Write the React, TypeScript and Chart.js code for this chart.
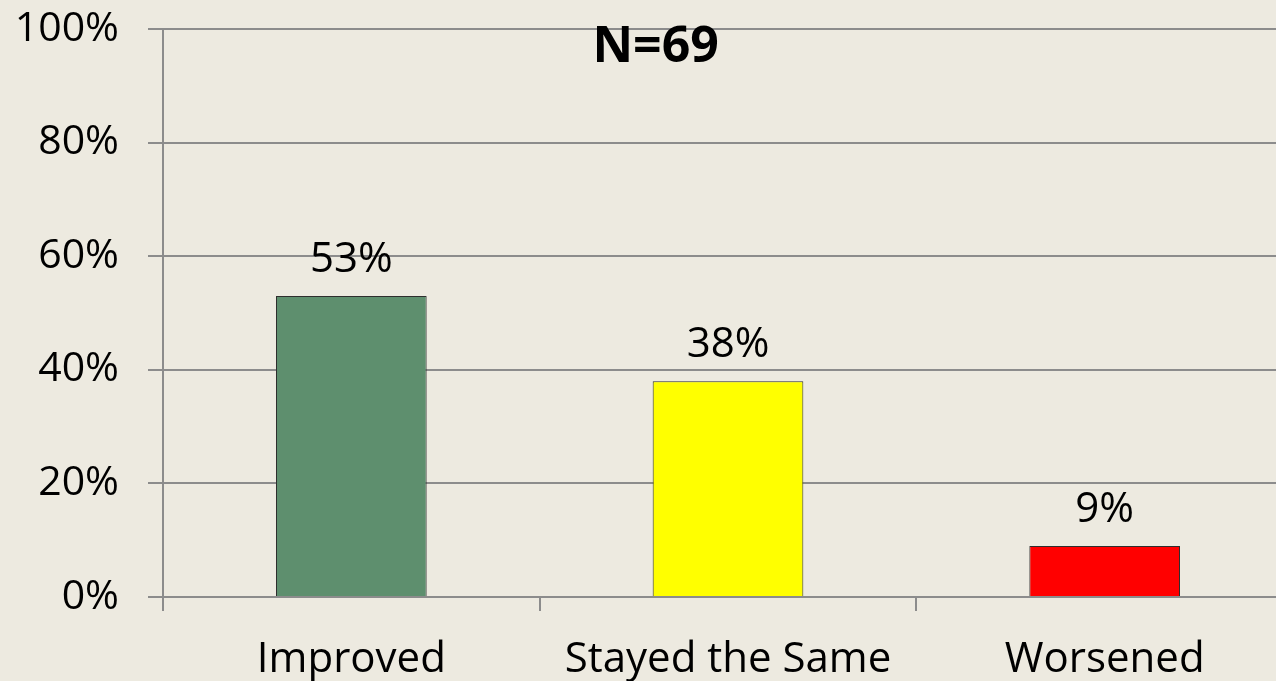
import React, { useEffect, useRef } from "react";
import { Chart, registerables } from "chart.js";

Chart.register(...registerables);

const categories = ["Improved", "Stayed the Same", "Worsened"];
const values = [53, 38, 9];
const barColors = ["#5E8F6E", "#FFFF00", "#FF0000"];
const yTicks = [0, 20, 40, 60, 80, 100];
const titleText = "N=69";

const FONT = "'Open Sans', 'DejaVu Sans', sans-serif";
const GRID = "#8c8c8c";

const labelPlugin = {
  id: "barLabels",
  afterDatasetsDraw(chart: any) {
    const ctx = chart.ctx;
    const meta = chart.getDatasetMeta(0);
    ctx.save();
    ctx.font = `42px ${FONT}`;
    ctx.fillStyle = "#000";
    ctx.textAlign = "center";
    ctx.textBaseline = "alphabetic";
    meta.data.forEach((bar: any, i: number) => {
      ctx.fillText(values[i] + "%", bar.x, bar.y - 24);
    });
    ctx.restore();
  },
  afterDraw(chart: any) {
    const ctx = chart.ctx;
    const a = chart.chartArea;
    ctx.save();
    ctx.font = `bold 50px ${FONT}`;
    ctx.fillStyle = "#000";
    ctx.textAlign = "center";
    ctx.textBaseline = "alphabetic";
    ctx.fillText(titleText, a.left + a.width * 0.436, a.top + 33);
    ctx.restore();
  },
};

export default function App() {
  const ref = useRef<HTMLCanvasElement>(null);
  useEffect(() => {
    if (!ref.current) return;
    const chart = new Chart(ref.current, {
      type: "bar",
      data: {
        labels: categories,
        datasets: [
          {
            data: values,
            backgroundColor: barColors,
            borderColor: "#2e2e2e",
            borderWidth: 1,
            barPercentage: 0.4,
            categoryPercentage: 1,
          },
        ],
      },
      options: {
        responsive: false,
        animation: false,
        devicePixelRatio: 1,
        layout: { padding: { top: 29, right: 2, left: 0, bottom: 0 } },
        plugins: {
          legend: { display: false },
          tooltip: { enabled: false },
          title: { display: false },
        },
        scales: {
          x: {
            offset: true,
            grid: {
              display: true,
              drawOnChartArea: false,
              offset: true,
              tickLength: 14,
              color: GRID,
              lineWidth: 2,
            },
            border: { display: true, color: GRID, width: 2 },
            ticks: {
              color: "#000",
              font: { family: FONT, size: 42 },
              padding: 24,
              maxRotation: 0,
              autoSkip: false,
            },
            afterFit(scale: any) {
              scale.height = 84;
              scale.paddingTop = 0;
              scale.paddingBottom = 0;
              scale.paddingLeft = 0;
              scale.paddingRight = 0;
            },
          },
          y: {
            min: 0,
            max: 100,
            afterBuildTicks(scale: any) {
              scale.ticks = yTicks.map((v) => ({ value: v }));
            },
            grid: {
              color: GRID,
              lineWidth: 2,
              tickLength: 15,
              drawTicks: true,
            },
            border: { display: true, color: GRID, width: 2 },
            ticks: {
              color: "#000",
              font: { family: FONT, size: 41 },
              padding: 29,
              callback: (v: any) => v + "%",
            },
            afterFit(scale: any) {
              scale.width = 163;
              scale.paddingTop = 0;
              scale.paddingBottom = 0;
            },
          },
        },
      },
      plugins: [labelPlugin],
    });
    return () => chart.destroy();
  }, []);

  return (
    <div
      style={{
        position: "fixed",
        left: 0,
        top: 0,
        width: 1276,
        height: 681,
        overflow: "hidden",
        background: "#EDEAE0",
      }}
    >
      <canvas ref={ref} width={1295} height={681} style={{ display: "block" }} />
    </div>
  );
}
